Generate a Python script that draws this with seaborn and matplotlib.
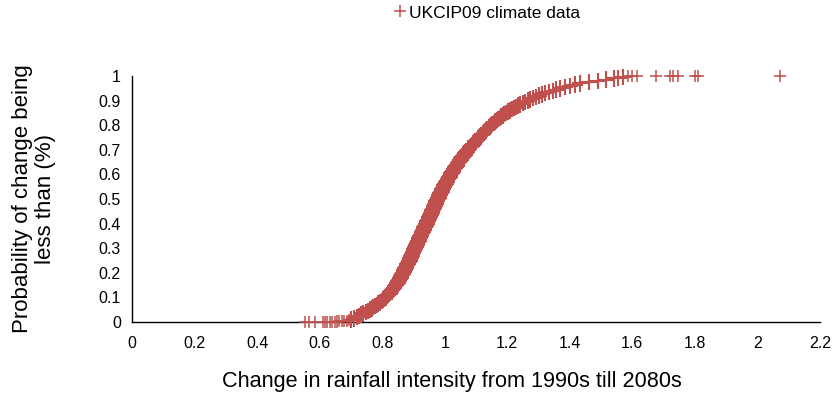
import numpy as np
import pandas as pd
import matplotlib
matplotlib.use("Agg")
import matplotlib.pyplot as plt
import seaborn as sns

# ---- data ----
# sparse lower tail (probability ~ 0)
low_prob = [0.0001, 0.0002, 0.0003, 0.0005, 0.0007, 0.0009, 0.0010, 0.0012,
            0.0015, 0.0020, 0.0025, 0.0030, 0.0040, 0.0050, 0.0070]
low_change = [0.553, 0.566, 0.585, 0.610, 0.618, 0.625, 0.632, 0.640,
              0.648, 0.655, 0.663, 0.670, 0.678, 0.686, 0.693]

# main body of the cumulative curve
main_prob = [
    0.010, 0.015, 0.020, 0.025, 0.030, 0.035, 0.040, 0.045, 0.050, 0.055,
    0.060, 0.065, 0.070, 0.075, 0.080, 0.085, 0.090, 0.095, 0.100, 0.105,
    0.110, 0.115, 0.120, 0.125, 0.130, 0.135, 0.140, 0.145, 0.150, 0.155,
    0.160, 0.165, 0.170, 0.175, 0.180, 0.185, 0.190, 0.195, 0.200, 0.205,
    0.210, 0.215, 0.220, 0.225, 0.230, 0.235, 0.240, 0.245, 0.250, 0.255,
    0.260, 0.265, 0.270, 0.275, 0.280, 0.285, 0.290, 0.295, 0.300, 0.305,
    0.310, 0.315, 0.320, 0.325, 0.330, 0.335, 0.340, 0.345, 0.350, 0.355,
    0.360, 0.365, 0.370, 0.375, 0.380, 0.385, 0.390, 0.395, 0.400, 0.405,
    0.410, 0.415, 0.420, 0.425, 0.430, 0.435, 0.440, 0.445, 0.450, 0.455,
    0.460, 0.465, 0.470, 0.475, 0.480, 0.485, 0.490, 0.495, 0.500, 0.505,
    0.510, 0.515, 0.520, 0.525, 0.530, 0.535, 0.540, 0.545, 0.550, 0.555,
    0.560, 0.565, 0.570, 0.575, 0.580, 0.585, 0.590, 0.595, 0.600, 0.605,
    0.610, 0.615, 0.620, 0.625, 0.630, 0.635, 0.640, 0.645, 0.650, 0.655,
    0.660, 0.665, 0.670, 0.675, 0.680, 0.685, 0.690, 0.695, 0.700, 0.705,
    0.710, 0.715, 0.720, 0.725, 0.730, 0.735, 0.740, 0.745, 0.750, 0.755,
    0.760, 0.765, 0.770, 0.775, 0.780, 0.785, 0.790, 0.795, 0.800, 0.805,
    0.810, 0.815, 0.820, 0.825, 0.830, 0.835, 0.840, 0.845, 0.850, 0.855,
    0.860, 0.865, 0.870, 0.875, 0.880, 0.885, 0.890, 0.895, 0.900, 0.905,
    0.910, 0.915, 0.920, 0.925, 0.930, 0.935, 0.940, 0.945, 0.950, 0.955,
    0.960, 0.965, 0.970, 0.975, 0.980, 0.985, 0.990, 0.993, 0.996]
main_change = [
    0.700, 0.709, 0.718, 0.726, 0.733, 0.740, 0.747, 0.754, 0.760, 0.766,
    0.772, 0.778, 0.783, 0.788, 0.793, 0.798, 0.802, 0.807, 0.811, 0.815,
    0.819, 0.823, 0.826, 0.829, 0.832, 0.835, 0.838, 0.841, 0.844, 0.847,
    0.849, 0.852, 0.854, 0.857, 0.859, 0.861, 0.863, 0.865, 0.867, 0.869,
    0.871, 0.873, 0.875, 0.877, 0.879, 0.881, 0.883, 0.885, 0.887, 0.889,
    0.891, 0.892, 0.894, 0.896, 0.898, 0.899, 0.901, 0.903, 0.905, 0.907,
    0.909, 0.910, 0.912, 0.914, 0.916, 0.917, 0.919, 0.921, 0.923, 0.925,
    0.927, 0.929, 0.931, 0.932, 0.934, 0.936, 0.938, 0.940, 0.942, 0.943,
    0.945, 0.947, 0.949, 0.951, 0.953, 0.954, 0.956, 0.958, 0.960, 0.961,
    0.963, 0.965, 0.967, 0.969, 0.971, 0.972, 0.974, 0.976, 0.978, 0.980,
    0.982, 0.983, 0.985, 0.987, 0.989, 0.991, 0.993, 0.995, 0.997, 0.999,
    1.002, 1.004, 1.006, 1.008, 1.011, 1.013, 1.015, 1.017, 1.020, 1.022,
    1.025, 1.027, 1.030, 1.032, 1.035, 1.037, 1.040, 1.042, 1.045, 1.048,
    1.051, 1.054, 1.057, 1.060, 1.063, 1.066, 1.069, 1.072, 1.075, 1.078,
    1.082, 1.085, 1.089, 1.092, 1.096, 1.099, 1.103, 1.106, 1.110, 1.113,
    1.117, 1.121, 1.125, 1.128, 1.132, 1.136, 1.140, 1.144, 1.148, 1.152,
    1.157, 1.161, 1.166, 1.171, 1.176, 1.180, 1.185, 1.190, 1.195, 1.201,
    1.208, 1.214, 1.221, 1.228, 1.235, 1.242, 1.250, 1.257, 1.265, 1.273,
    1.282, 1.291, 1.300, 1.310, 1.320, 1.332, 1.345, 1.357, 1.370, 1.385,
    1.400, 1.415, 1.433, 1.460, 1.490, 1.515, 1.540, 1.555, 1.570]

# sparse upper tail (probability ~ 1)
high_prob = [0.9985, 0.9987, 0.9989, 0.9991, 0.9993, 0.9995, 0.9996, 0.9997,
             0.9998, 0.9999]
high_change = [1.586, 1.600, 1.615, 1.676, 1.720, 1.730, 1.745, 1.800,
               1.810, 2.072]

x_ticks = [0, 0.2, 0.4, 0.6, 0.8, 1, 1.2, 1.4, 1.6, 1.8, 2, 2.2]
x_tick_labels = ["0", "0.2", "0.4", "0.6", "0.8", "1", "1.2", "1.4", "1.6", "1.8", "2", "2.2"]
y_ticks = [0, 0.1, 0.2, 0.3, 0.4, 0.5, 0.6, 0.7, 0.8, 0.9, 1]
y_tick_labels = ["0", "0.1", "0.2", "0.3", "0.4", "0.5", "0.6", "0.7", "0.8", "0.9", "1"]

series_name = "UKCIP09 climate data"

tails = pd.DataFrame({
    "change": low_change + high_change,
    "prob": low_prob + high_prob,
    "series": series_name,
})
body = pd.DataFrame({
    "change": main_change,
    "prob": main_prob,
    "series": series_name,
})

# ---- styling ----
sns.set_theme(style="white")
plt.rcParams["font.family"] = ["Liberation Sans", "DejaVu Sans"]
plt.rcParams["text.color"] = "black"
plt.rcParams["axes.labelcolor"] = "black"

fig = plt.figure(figsize=(8.33, 3.97), dpi=100)
ax = fig.add_axes([132 / 833, 1 - 322 / 397, 688 / 833, 246 / 397])

marker_color = "#C0504D"
sns.scatterplot(data=body, x="change", y="prob", hue="series",
                palette=[marker_color], marker="+", s=140, linewidth=1.5,
                ax=ax, clip_on=False, zorder=3, legend=False)
sns.scatterplot(data=tails, x="change", y="prob", hue="series",
                palette=[marker_color], marker="+", s=75, linewidth=1.1,
                ax=ax, clip_on=False, zorder=3, legend=False)

ax.set_xlim(0, 2.2)
ax.set_ylim(0, 1)
ax.set_xticks(x_ticks)
ax.set_xticklabels(x_tick_labels)
ax.set_yticks(y_ticks)
ax.set_yticklabels(y_tick_labels)

for side in ["top", "right"]:
    ax.spines[side].set_visible(False)
for side in ["left", "bottom"]:
    ax.spines[side].set_color("black")
    ax.spines[side].set_linewidth(1.0)
    ax.spines[side].set_zorder(2)

ax.tick_params(axis="both", which="major", direction="out", length=4, width=1,
               color="#9a9a9a", labelsize=11.5, labelcolor="black")
ax.tick_params(axis="x", pad=6)
ax.tick_params(axis="y", pad=4)

ax.set_xlabel("Change in rainfall intensity from 1990s till 2080s", fontsize=15.6,
              color="black")
ax.xaxis.set_label_coords(0.465, -0.2)
ax.set_ylabel("Probability of change being\nless than (%)", fontsize=16,
              linespacing=1.15, color="black")
ax.yaxis.set_label_coords(-0.11, 0.5)

# legend at the top
handle = plt.Line2D([], [], linestyle="none", marker="+", markersize=9,
                    markeredgewidth=1.1, color=marker_color)
leg = fig.legend([handle], [series_name], loc="center",
                 bbox_to_anchor=(486 / 833, 1 - 13 / 397),
                 frameon=False, fontsize=12.5, handletextpad=0.05, handlelength=0.9,
                 borderpad=0.2)
for t in leg.get_texts():
    t.set_color("black")

fig.savefig("out.png", dpi=100)
